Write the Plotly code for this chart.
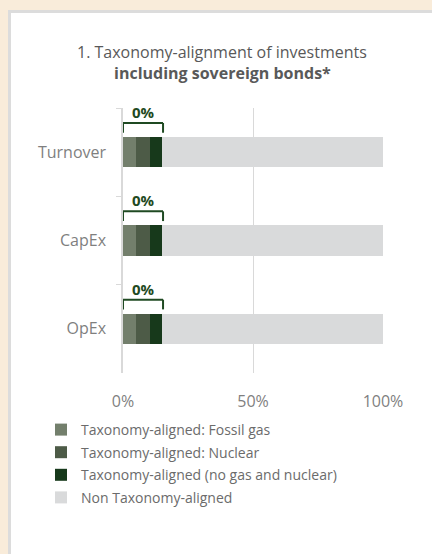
import plotly.graph_objects as go

# ---- data ----
categories = ["Turnover", "CapEx", "OpEx"]
fossil_gas = [5.1, 5.1, 5.1]
nuclear = [5.1, 5.1, 5.1]
no_gas_nuclear = [4.7, 4.7, 4.7]
non_aligned = [85.1, 85.1, 85.1]
aligned_labels = ["0%", "0%", "0%"]
x_tickvals = [0, 50, 100]
x_ticktext = ["0%", "50%", "100%"]
series_names = [
    "Taxonomy-aligned: Fossil gas",
    "Taxonomy-aligned: Nuclear",
    "Taxonomy-aligned (no gas and nuclear)",
    "Non Taxonomy-aligned",
]
series_colors = ["#737f6c", "#4d5b47", "#17391b", "#d9dadb"]
title_line1 = "1. Taxonomy-alignment of investments"
title_line2 = "including sovereign bonds*"

# ---- layout geometry ----
W, H = 432, 554
ML, MR, MT, MB = 123, 49, 108, 181
PW, PH = W - ML - MR, H - MT - MB


def xp(px):
    return (px - ML) / PW


def yp(py):
    return 1 - (py - MT) / PH


FONT = "Open Sans"
DARK = "#1f4a22"

fig = go.Figure()
for name, vals, col in zip(series_names, [fossil_gas, nuclear, no_gas_nuclear, non_aligned], series_colors):
    fig.add_trace(go.Bar(
        y=categories, x=vals, orientation="h", name=name,
        marker=dict(color=col, line=dict(width=0)),
        width=0.34, legendgroup=name, hoverinfo="skip",
    ))

shapes = [
    dict(type="rect", xref="paper", yref="paper", x0=xp(9.5), x1=xp(445), y0=yp(11.5), y1=yp(570),
         fillcolor="white", line=dict(color="#dcdcdc", width=3), layer="below"),
]
annotations = []
half = 0.34 / 2
for i, cat in enumerate(categories):
    total = fossil_gas[i] + nuclear[i] + no_gas_nuclear[i]
    right = total + 0.5
    top = i - half - 0.16
    end = i - half - 0.05
    for (x0, y0, x1, y1) in [(0, end, 0, top), (0, top, right, top), (right, top, right, end)]:
        shapes.append(dict(type="line", xref="x", yref="y", x0=x0, y0=y0, x1=x1, y1=y1,
                           line=dict(color=DARK, width=2)))
    annotations.append(dict(x=right / 2, y=i - half - 0.285, xref="x", yref="y", text=f"<b>{aligned_labels[i]}</b>",
                            showarrow=False, font=dict(family=FONT, size=15, color=DARK),
                            xanchor="center", yanchor="middle"))

annotations.append(dict(x=xp(222), y=yp(52), xref="paper", yref="paper", text=title_line1, showarrow=False,
                        font=dict(family=FONT, size=16, color="#595959"), xanchor="center", yanchor="middle"))
annotations.append(dict(x=xp(222), y=yp(73), xref="paper", yref="paper", text=f"<b>{title_line2}</b>", showarrow=False,
                        font=dict(family=FONT, size=16, color="#595959"), xanchor="center", yanchor="middle"))

fig.update_layout(
    width=W, height=H, autosize=False,
    margin=dict(l=ML, r=MR, t=MT, b=MB, pad=0),
    paper_bgcolor="#f9ecda", plot_bgcolor="rgba(0,0,0,0)",
    barmode="stack", bargap=0,
    font=dict(family=FONT, color="#7f7f7f"),
    showlegend=True,
    legend=dict(x=xp(41), y=yp(414), xanchor="left", yanchor="top", traceorder="grouped",
                tracegroupgap=1.4, font=dict(family=FONT, size=14, color="#6b6b6b"),
                bgcolor="rgba(0,0,0,0)", itemclick=False, itemdoubleclick=False),
    shapes=shapes, annotations=annotations,
    xaxis=dict(range=[0, 100], tickvals=x_tickvals, ticktext=x_ticktext, showgrid=True, gridcolor="#d9d9d9",
               gridwidth=1, zeroline=False, showline=False, ticks="outside", ticklen=14,
               tickcolor="rgba(0,0,0,0)", tickfont=dict(family=FONT, size=16, color="#7f7f7f"), fixedrange=True),
    yaxis=dict(type="category", categoryorder="array", categoryarray=categories, range=[2.5, -0.5],
               showline=True, linecolor="#d9d9d9", linewidth=1.5, ticks="outside", ticklen=5,
               tickcolor="#d9d9d9", tickson="boundaries", showgrid=False, zeroline=False,
               ticklabelstandoff=12, tickfont=dict(family=FONT, size=16, color="#7f7f7f"), fixedrange=True),
)

fig.write_html("out.html", config={"displayModeBar": False})
